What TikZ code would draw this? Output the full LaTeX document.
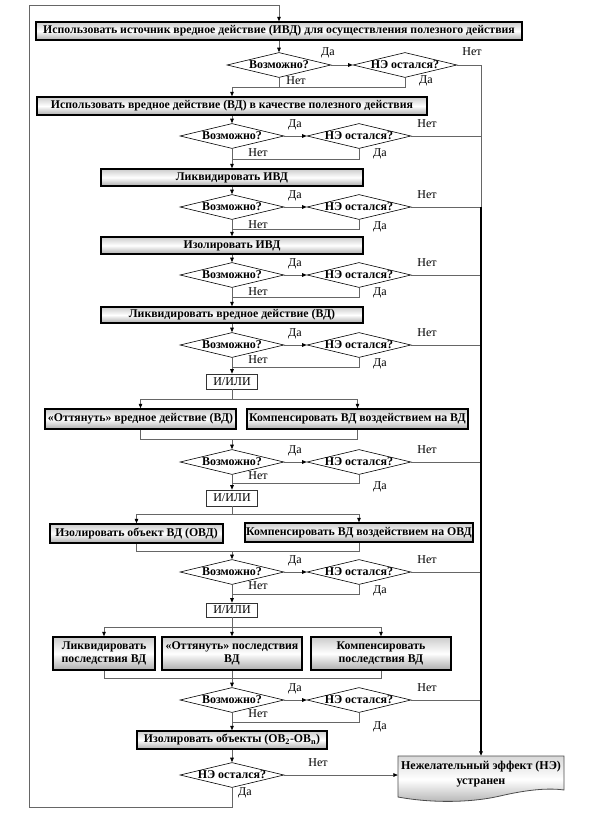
\documentclass[tikz,border=0pt]{standalone}
\usepackage{fontspec}
\setmainfont{Liberation Serif}
\usetikzlibrary{arrows.meta,shapes.geometric,calc}
\tikzset{
 conn/.style={draw=black!60, line width=0.7pt},
 arr/.style={-{Triangle[length=4.5pt,width=3.6pt,color=black]}},
 box/.style={draw=black, line width=1.5pt, top color=gray!40, bottom color=gray!65, middle color=white, font=\fontsize{11.8}{13}\selectfont\bfseries, inner sep=0pt, align=center},
 orbox/.style={draw=black!80, line width=0.6pt, fill=white, font=\fontsize{12}{13}\selectfont, inner sep=0pt, minimum width=51pt, minimum height=15pt},
 dia/.style={diamond, draw=black, line width=0.6pt, fill=white, aspect=4.2, inner sep=0pt, minimum width=104pt, minimum height=25pt, font=\fontsize{12}{13}\selectfont\bfseries},
 lbl/.style={font=\fontsize{12}{13}\selectfont, inner sep=0pt},
}
\newcommand\qpair[5]{%
  \node[dia] (d#1) at (232,#2) {Возможно?};
  \node[dia] (n#1) at (359,#2) {НЭ остался?};
  \draw[conn,arr] (d#1.east) -- (n#1.west);
  \node[lbl] (ly#1) at (295,{#2-11}) {Да};
  \node[lbl] (ln#1) at (427,{#2-12}) {Нет};
  \node[lbl] (lbn#1) at (258,#4) {Нет};
  \node[lbl] (lby#1) at (380,#5) {Да};
  \coordinate (m#1) at (232,#3);
  \draw[conn] (n#1.south) |- (m#1);
  \draw[conn] (n#1.east) -- (n#1.east -| rv);
}
\begin{document}
\begin{tikzpicture}[x=1pt,y=-1pt]
\useasboundingbox (0,0) rectangle (591,827);
\coordinate (rv) at (481,65);
\coordinate (rvk) at (481,207);
% level 1
\node[box, minimum width=486pt, minimum height=18pt] (b1) at (279,31) {Использовать источник вредное действие (ИВД) для осуществления полезного действия};
\node[dia] (d1) at (279,65) {Возможно?};
\node[dia] (n1) at (405,65) {НЭ остался?};
\draw[conn,arr] (b1.south) -- (d1.north);
\draw[conn,arr] (d1.east) -- (n1.west);
\node[lbl] (ly1) at (328,53) {Да};
\node[lbl] (ln1) at (472,52) {Нет};
\node[lbl] (lbn1) at (296,81) {Нет};
\node[lbl] (lby1) at (426,81) {Да};
\coordinate (m1) at (232,87);
\draw[conn] (n1.south) |- (m1);
\draw[conn] (d1.south) -- (d1.south |- m1);
\draw[conn] (n1.east) -- (rv);
% boxes
\node[box, minimum width=390pt, minimum height=18pt] (b2) at (232,106) {Использовать вредное действие (ВД) в качестве полезного действия};
\draw[conn,arr] (m1) -- (b2.north);
\qpair{2}{136}{159}{153}{154}
\draw[conn,arr] (b2.south) -- (d2.north);
\node[box, minimum width=262pt, minimum height=17pt] (b3) at (232,177.5) {Ликвидировать ИВД};
\draw[conn,arr] (d2.south) -- (b3.north);
\qpair{3}{207}{229}{225}{227}
\draw[conn,arr] (b3.south) -- (d3.north);
\node[box, minimum width=262pt, minimum height=17pt] (b4) at (232,245.5) {Изолировать ИВД};
\draw[conn,arr] (d3.south) -- (b4.north);
\qpair{4}{275}{297}{292}{293}
\draw[conn,arr] (b4.south) -- (d4.north);
\node[box, minimum width=262pt, minimum height=16pt] (b5) at (232,315) {Ликвидировать вредное действие (ВД)};
\draw[conn,arr] (d4.south) -- (b5.north);
\qpair{5}{345}{367}{360}{364}
\draw[conn,arr] (b5.south) -- (d5.north);
\node[orbox] (or1) at (232,381.5) {И/ИЛИ};
\draw[conn,arr] (d5.south) -- (or1.north);
% split 1
\node[box, minimum width=191pt, minimum height=20pt] (b6a) at (140.5,419) {«Оттянуть» вредное действие (ВД)};
\node[box, minimum width=221pt, minimum height=20pt] (b6b) at (357.5,419) {Компенсировать ВД воздействием на ВД};
\coordinate (s1) at (232,399);
\draw[conn,arr] (or1.south) -- (s1) -| (b6a.north);
\draw[conn,arr] (s1) -| (b6b.north);
\coordinate (j1) at (232,439);
\draw[conn] (b6a.south) |- (j1);
\draw[conn] (b6b.south) |- (j1);
\qpair{6}{462}{483}{476}{487}
\draw[conn,arr] (j1) -- (d6.north);
\node[orbox, minimum height=16pt] (or2) at (232,498) {И/ИЛИ};
\draw[conn,arr] (d6.south) -- (or2.north);
% split 2
\node[box, minimum width=173pt, minimum height=19pt] (b7a) at (136.5,533.5) {Изолировать объект ВД (ОВД)};
\node[box, minimum width=228pt, minimum height=19pt] (b7b) at (359,532.5) {Компенсировать ВД воздействием на ОВД};
\coordinate (s2) at (232,514);
\draw[conn,arr] (or2.south) -- (s2) -| (b7a.north);
\draw[conn,arr] (s2) -| (b7b.north);
\coordinate (j2) at (232,551);
\draw[conn] (b7a.south) |- (j2);
\draw[conn] (b7b.south) |- (j2);
\qpair{7}{572}{594}{586}{591}
\draw[conn,arr] (j2) -- (d7.north);
\node[orbox, minimum height=14pt] (or3) at (232,610) {И/ИЛИ};
\draw[conn,arr] (d7.south) -- (or3.north);
% split 3
\node[box, minimum width=102pt, minimum height=33pt] (b8a) at (104,653.5) {Ликвидировать\\последствия ВД};
\node[box, minimum width=140pt, minimum height=33pt] (b8b) at (232,653.5) {«Оттянуть» последствия\\ВД};
\node[box, minimum width=140pt, minimum height=33pt] (b8c) at (381,653.5) {Компенсировать\\последствия ВД};
\coordinate (s3) at (232,627);
\draw[conn,arr] (or3.south) -- (s3) -| (b8a.north);
\draw[conn,arr] (s3) -| (b8c.north);
\draw[conn,arr] (s3) -- (b8b.north);
\coordinate (j3) at (232,678);
\draw[conn] (b8a.south) |- (j3);
\draw[conn] (b8c.south) |- (j3);
\qpair{8}{700}{722}{714}{727}
\draw[conn,arr] (b8b.south) -- (d8.north);
\node[box, minimum width=190pt, minimum height=18pt] (b9) at (232,740) {Изолировать объекты (ОВ\textsubscript{2}-ОВ\textsubscript{n})};
\draw[conn,arr] (d8.south) -- (b9.north);
\node[dia] (d9) at (232,775) {НЭ остался?};
\draw[conn,arr] (b9.south) -- (d9.north);
% end box
\path[draw=black!70, line width=0.8pt, top color=gray!30, bottom color=gray!60, middle color=white]
  (398,756) -- (564,756) -- (564,790) .. controls (550,788) and (530,789) .. (500,796)
  .. controls (470,803) and (430,803) .. (398,797) -- cycle;
\node[font=\fontsize{12}{15}\selectfont\bfseries, align=center, minimum width=166pt, minimum height=36pt, inner sep=0pt] (end) at (481,774) {Нежелательный эффект (НЭ)\\устранен};
\draw[conn,arr] (d9.east) -- (end.west |- d9.east);
\node[lbl] (ln9) at (318,763) {Нет};
\node[lbl] (ly9) at (245,793) {Да};
% right collector
\draw[conn] (rv) -- (rvk);
\draw[draw=black, line width=1.4pt, arr] (rvk) -- (end.north);
% loop back
\coordinate (lt) at (29,5);
\draw[conn,arr] (d9.south) -- (232,807) -| (lt) -| (b1.north);
\end{tikzpicture}
\end{document}
